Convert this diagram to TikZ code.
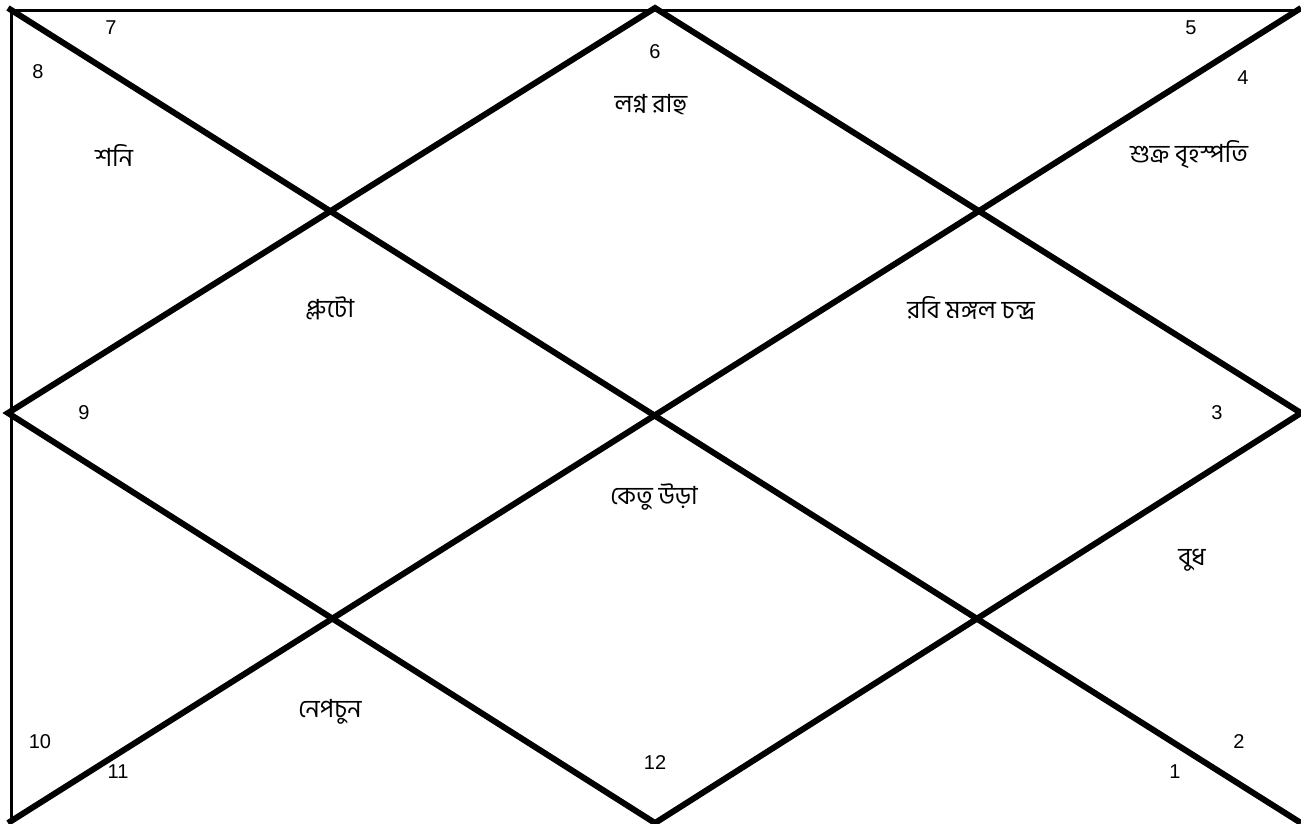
\documentclass[tikz,border=0pt]{standalone}
\usepackage{fontspec}
\setmainfont{Liberation Sans}
\newfontfamily\bnfont[Script=Bengali]{Hind Siliguri}
\begin{document}
\begin{tikzpicture}[x=1pt,y=-1pt,
  thinline/.style={line width=3pt},
  thickline/.style={line width=6pt},
  num/.style={font=\fontsize{20}{24}\selectfont, inner sep=0pt},
  planet/.style={font=\bnfont\fontsize{25}{30}\selectfont, inner sep=0pt}]
\useasboundingbox (0,0) rectangle (1301,823);
\coordinate (TL) at (11,10);
\coordinate (TR) at (1301,10);
\coordinate (BL) at (11,823);
\coordinate (BR) at (1301,823);
\coordinate (T) at (655,8);
\coordinate (L) at (8,413);
\coordinate (B) at (655,823);
\coordinate (R) at (1301,413);
\coordinate (D1) at (8,8);
\coordinate (D2) at (1301,823);
\coordinate (D3) at (1301,8);
\coordinate (D4) at (8,823);
\draw[thinline] (TL) -- (TR);
\draw[thinline] (TL) -- (BL);
\draw[thickline] (D1) -- (D2);
\draw[thickline] (D3) -- (D4);
\draw[thickline] (T) -- (R) -- (B) -- (L) -- cycle;
% house numbers
\node[num] (n6) at (655,52) {6};
\node[num] (n7) at (111,28) {7};
\node[num] (n8) at (38,72) {8};
\node[num] (n5) at (1191,28) {5};
\node[num] (n4) at (1243,78) {4};
\node[num] (n9) at (84,413) {9};
\node[num] (n3) at (1217,413) {3};
\node[num] (n10) at (40,742) {10};
\node[num] (n11) at (118,772) {11};
\node[num] (n12) at (655,763) {12};
\node[num] (n2) at (1239,742) {2};
\node[num] (n1) at (1175,772) {1};
% planets
\node[planet] (p6) at (651,105) {লগ্ন রাহু};
\node[planet] (p7) at (114,155) {শনি};
\node[planet] (p4) at (1189,155) {শুক্র বৃহস্পতি};
\node[planet] (p9) at (330,308) {প্লুটো};
\node[planet] (p3) at (971,308) {রবি মঙ্গল চন্দ্র};
\node[planet] (p12) at (654,497) {কেতু উড়া};
\node[planet] (p1) at (1192,560) {বুধ};
\node[planet] (p10) at (330,712) {নেপচুন};
\end{tikzpicture}
\end{document}
